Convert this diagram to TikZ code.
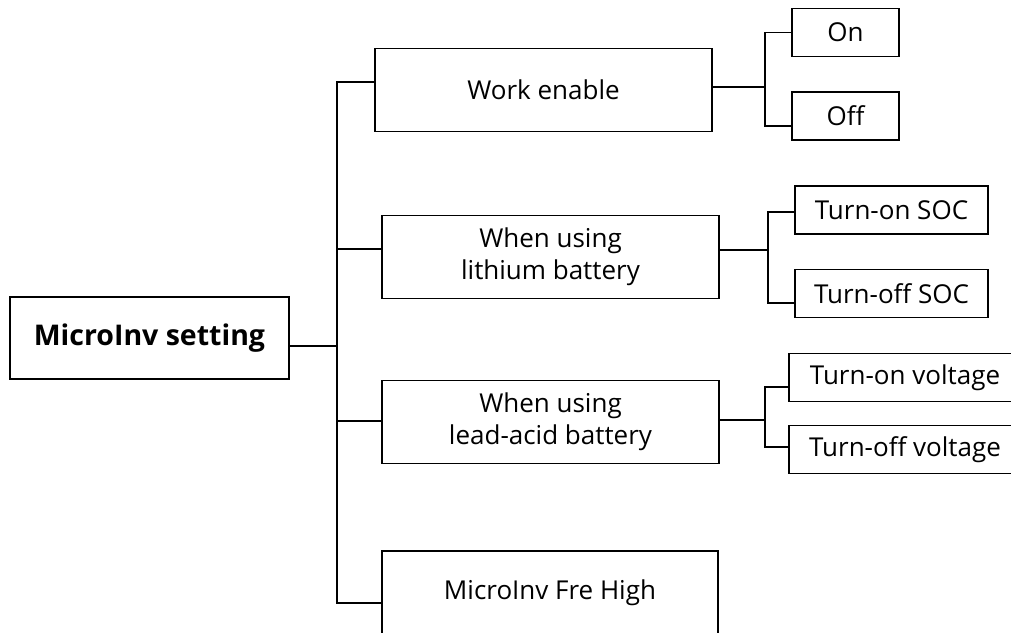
\documentclass[tikz,border=0pt]{standalone}
\usepackage{fontspec}
\setmainfont{Open Sans}
\usetikzlibrary{positioning, calc}

\begin{document}
\begin{tikzpicture}[x=1pt, y=-1pt,
    menu/.style={draw, line width=1.3pt, minimum width=#1, minimum height=83pt,
                 inner sep=0pt, align=center, font=\fontsize{26}{32}\selectfont},
    item/.style={draw, line width=1.3pt, minimum width=#1, minimum height=48pt,
                 inner sep=0pt, font=\fontsize{26}{32}\selectfont},
    link/.style={line width=1.3pt}
  ]
    \useasboundingbox (0,0) rectangle (1011,632);

    % Root
    \node[menu=279pt, minimum height=82pt, font=\bfseries\fontsize{28.5}{34}\selectfont]
      (root) at (149.5,338) {MicroInv setting};

    % Menu items
    \node[menu=337pt] (work) at (543.5,90)   {Work enable};
    \node[menu=337pt] (lith) at (550.5,257) {When using\\lithium battery};
    \node[menu=337pt] (lead) at (550.5,422)   {When using\\lead-acid battery};
    \node[menu=336pt] (fre)  at (550,592.5)   {MicroInv Fre High};

    % Options
    \node[item=107pt] (on)      at (845.5,32.5)  {On};
    \node[item=107pt] (off)     at (845.5,116)   {Off};
    \node[item=193pt] (onsoc)   at (891.5,210)   {Turn-on SOC};
    \node[item=193pt] (offsoc)  at (891.5,293.5) {Turn-off SOC};
    \node[item=232pt] (onvolt)  at (905,377.5)   {Turn-on voltage};
    \node[item=232pt] (offvolt) at (905,449.5)   {Turn-off voltage};

    % Main bus
    \coordinate (bus) at (337,0);
    \path ([yshift=-8pt]root.east)  coordinate (rootout)
          ([yshift=8pt]work.west)   coordinate (workin)
          ([yshift=8pt]lith.west)   coordinate (lithin)
          ([yshift=1pt]lead.west)   coordinate (leadin)
          ([yshift=-10.5pt]fre.west) coordinate (frein);
    \draw[link] (workin) -| (bus |- frein) -- (frein);
    \foreach \t in {rootout, lithin, leadin}
      \draw[link] (\t) -- (\t -| bus);

    % Option brackets
    \foreach \p/\ys/\a/\ya/\b/\yb/\bx in {work/3/on/0/off/-10/765,
        lith/7/onsoc/-2/offsoc/-9.5/768, lead/2/onvolt/-9.5/offvolt/2.5/765}{
      \coordinate (j) at (\bx,0);
      \path ([yshift=\ys pt]\p.east) coordinate (s)
            ([yshift=\ya pt]\a.west) coordinate (ta)
            ([yshift=\yb pt]\b.west) coordinate (tb);
      \draw[link] (s) -- (s -| j);
      \draw[link] (ta) -- (ta -| j) -- (tb -| j) -- (tb);
    }

  \end{tikzpicture}
\end{document}
